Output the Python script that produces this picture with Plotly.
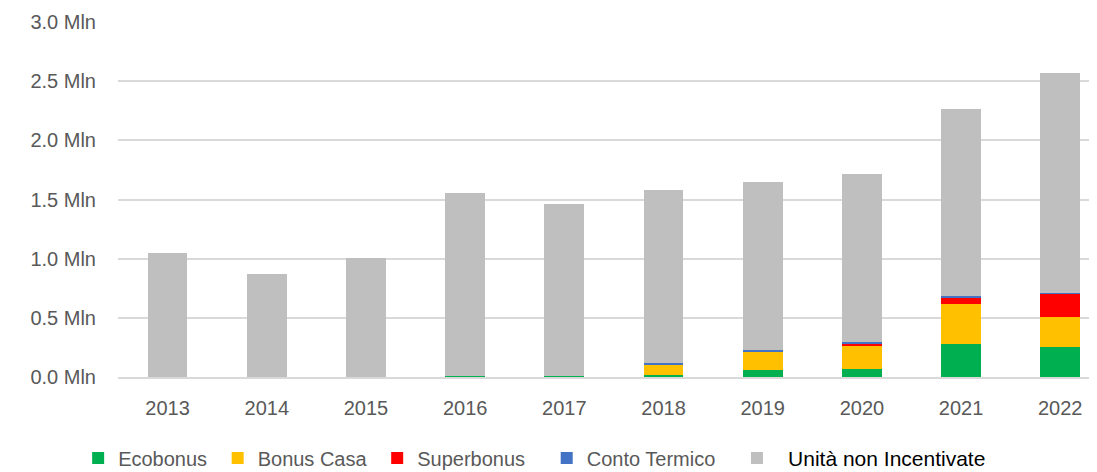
import plotly.graph_objects as go

years = ["2013", "2014", "2015", "2016", "2017", "2018", "2019", "2020", "2021", "2022"]
ecobonus = [0, 0, 0, 0.006, 0.006, 0.015, 0.062, 0.064, 0.282, 0.256]
bonus_casa = [0, 0, 0, 0, 0, 0.093, 0.150, 0.198, 0.332, 0.248]
superbonus = [0, 0, 0, 0, 0, 0, 0, 0.017, 0.050, 0.200]
conto_termico = [0, 0, 0, 0, 0, 0.008, 0.013, 0.020, 0.017, 0.010]
non_incentivate = [1.048, 0.870, 1.009, 1.552, 1.453, 1.467, 1.423, 1.414, 1.581, 1.858]
tick_vals = [0, 0.5, 1.0, 1.5, 2.0, 2.5, 3.0]
tick_text = ["0.0 Mln", "0.5 Mln", "1.0 Mln", "1.5 Mln", "2.0 Mln", "2.5 Mln", "3.0 Mln"]

NB = "\u00a0"
series = [
    ("Ecobonus" + NB, ecobonus, "#00B050"),
    ("Bonus Casa" + NB, bonus_casa, "#FFC000"),
    ("Superbonus" + NB * 3, superbonus, "#FF0000"),
    ("Conto Termico" + NB * 3, conto_termico, "#4472C4"),
    (NB * 2 + "<span style='color:#000000;font-size:21px'>Unità non Incentivate</span>",
     non_incentivate, "#BFBFBF"),
]

fig = go.Figure()
for name, vals, color in series:
    fig.add_trace(go.Bar(
        x=list(range(len(years))), y=vals, name=name,
        marker=dict(color=color, line=dict(width=0)),
        width=0.4,
    ))

FONT = "Liberation Sans"
fig.update_layout(
    barmode="stack",
    width=1089, height=464,
    margin=dict(l=110, r=7, t=14, b=95, autoexpand=False),
    plot_bgcolor="white", paper_bgcolor="white",
    font=dict(family=FONT, size=20, color="#595959"),
    showlegend=True,
    legend=dict(
        orientation="h", x=-0.041, xanchor="left", y=-0.2282, yanchor="middle",
        font=dict(family=FONT, size=20, color="#595959"),
        traceorder="normal", itemwidth=30,
        itemclick=False,
    ),
    xaxis=dict(
        range=[-0.5, 9.3],
        tickvals=list(range(len(years))), ticktext=years,
        showgrid=False, showline=True, linecolor="#D9D9D9", linewidth=1.5,
        ticks="", tickfont=dict(size=20, color="#595959"),
        ticklabelstandoff=12,
        zeroline=False,
    ),
    yaxis=dict(
        range=[0, 3.0],
        tickvals=tick_vals, ticktext=tick_text,
        showgrid=True, gridcolor="#D9D9D9", gridwidth=1.5,
        zeroline=False, showline=False, ticks="",
        tickfont=dict(size=20, color="#595959"),
        ticklabelstandoff=21,
    ),
)

fig.write_html("out.html")
